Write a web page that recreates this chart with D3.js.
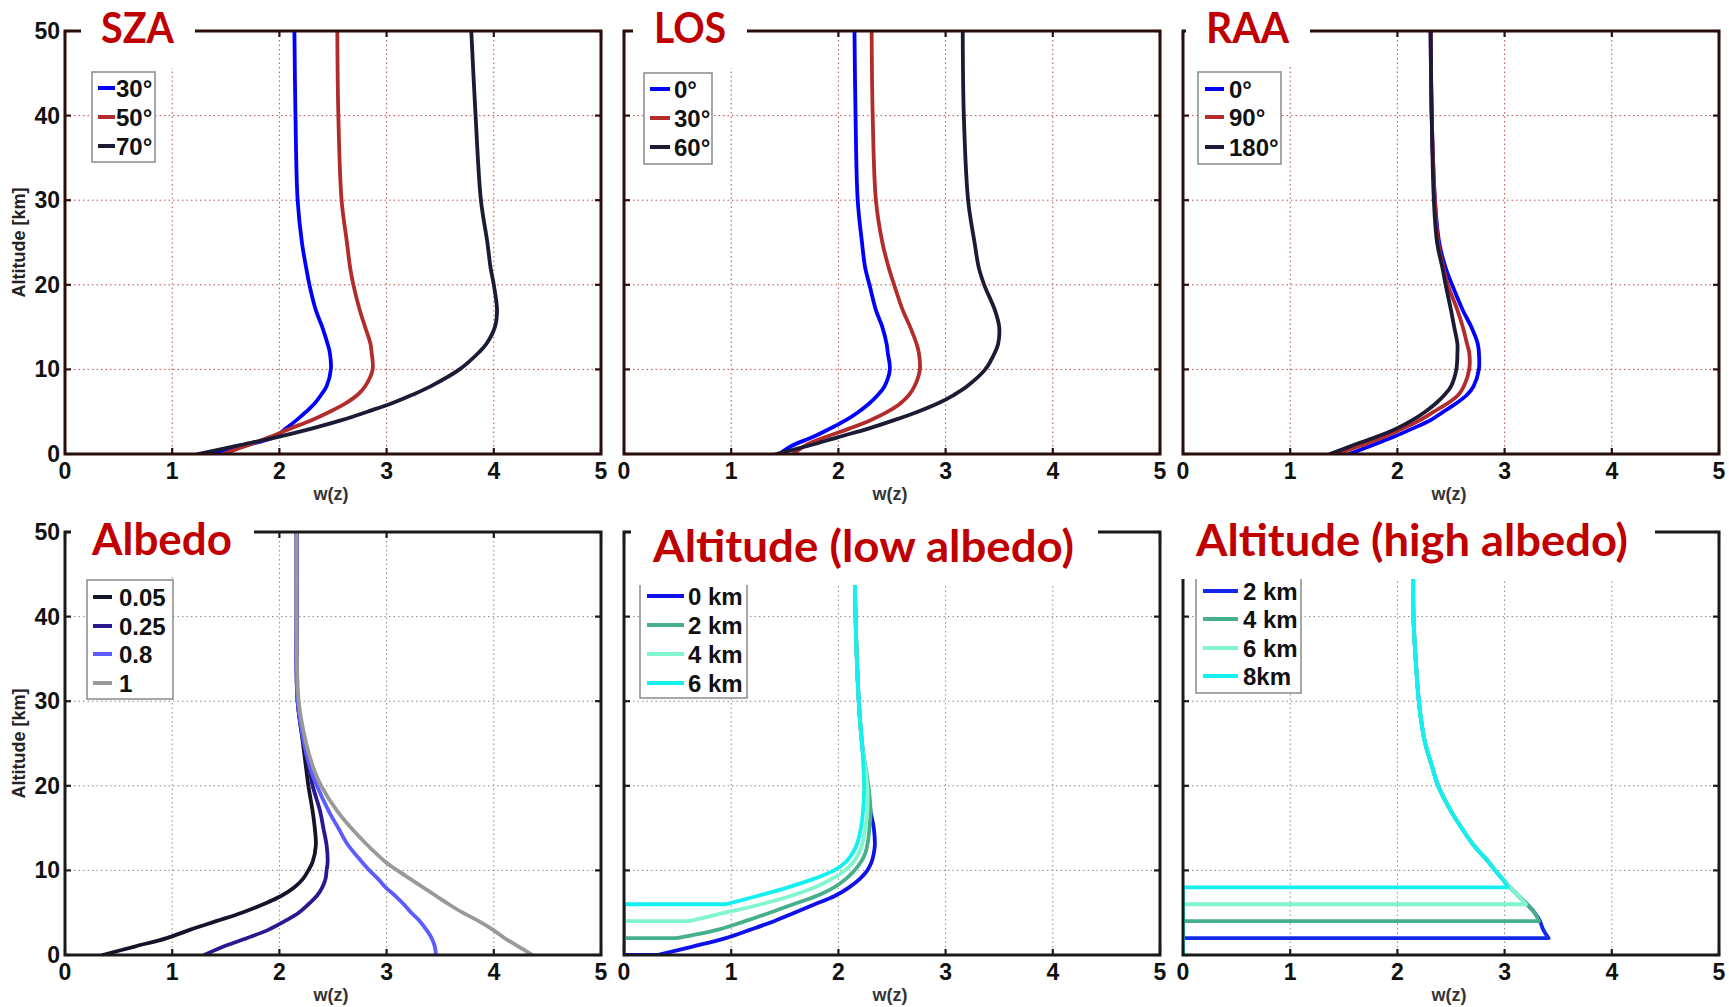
<!DOCTYPE html>
<html><head><meta charset="utf-8">
<script src="https://cdn.jsdelivr.net/npm/d3@7"></script>
<style>body{margin:0;background:#fff;} svg{display:block;}</style>
</head><body>
<svg id="chart" width="1729" height="1007"></svg>
<script>
// ---------- data ----------
const xTickValues = [0, 1, 2, 3, 4, 5];
const yTickValues = [0, 10, 20, 30, 40, 50];

// SZA panel
const szaAlt = [0,1,2,3,4,5,6,7,8,10,12,13,15,17,20,22,25,30,40,50];
const sza30 = [1.30,1.68,1.95,2.06,2.16,2.25,2.33,2.39,2.44,2.48,2.47,2.45,2.40,2.34,2.28,2.25,2.21,2.17,2.15,2.14];
const sza50 = [1.47,1.70,1.91,2.10,2.30,2.47,2.62,2.73,2.80,2.87,2.86,2.85,2.80,2.75,2.69,2.66,2.63,2.58,2.55,2.54];
const sza70 = [1.24,1.61,1.98,2.30,2.58,2.82,3.05,3.24,3.41,3.68,3.86,3.93,4.01,4.03,4.00,3.97,3.94,3.88,3.83,3.79];
const szaNames = ["30°", "50°", "70°"];

// LOS panel
const losAlt = [0,1,2,3,4,5,6,7,8,10,12,13,15,17,20,22,25,30,40,50];
const los0  = [1.45,1.57,1.76,1.92,2.07,2.19,2.29,2.37,2.43,2.48,2.46,2.45,2.41,2.35,2.29,2.25,2.22,2.18,2.16,2.15];
const los30 = [1.58,1.69,1.88,2.10,2.30,2.46,2.58,2.66,2.71,2.76,2.75,2.73,2.67,2.60,2.52,2.47,2.41,2.35,2.32,2.31];
const los60 = [1.42,1.73,2.00,2.28,2.52,2.74,2.93,3.08,3.20,3.37,3.46,3.49,3.50,3.46,3.36,3.31,3.27,3.21,3.17,3.16];
const losNames = ["0°", "30°", "60°"];

// RAA panel
const raaAlt = [0,1,2,3,4,5,6,7,8,10,12,13,15,17,20,22,25,30,40,50];
const raa0   = [1.55,1.76,1.96,2.14,2.31,2.43,2.55,2.65,2.71,2.76,2.76,2.75,2.69,2.61,2.51,2.45,2.39,2.35,2.32,2.31];
const raa90  = [1.44,1.66,1.87,2.05,2.21,2.34,2.47,2.57,2.62,2.67,2.67,2.65,2.61,2.56,2.47,2.43,2.38,2.35,2.32,2.31];
const raa180 = [1.37,1.58,1.80,1.99,2.14,2.26,2.36,2.44,2.50,2.55,2.56,2.56,2.53,2.50,2.45,2.42,2.37,2.34,2.32,2.31];
const raaNames = ["0°", "90°", "180°"];

// Albedo panel
const albAlt = [0,1,2,3,4,5,6,7,8,9,10,11,13,15,17,20,22,25,30,40,50];
const alb005 = [0.35,0.65,0.95,1.17,1.41,1.65,1.85,2.02,2.14,2.22,2.27,2.31,2.34,2.33,2.31,2.27,2.25,2.22,2.17,2.16,2.16];
const alb025 = [1.30,1.48,1.70,1.90,2.05,2.18,2.27,2.35,2.40,2.43,2.44,2.45,2.44,2.41,2.38,2.31,2.28,2.23,2.17,2.16,2.16];
const alb08  = [3.46,3.45,3.42,3.37,3.31,3.23,3.16,3.08,2.99,2.92,2.84,2.77,2.64,2.55,2.46,2.35,2.29,2.23,2.17,2.16,2.16];
const alb1   = [4.36,4.23,4.10,3.99,3.86,3.71,3.58,3.46,3.34,3.22,3.10,2.99,2.82,2.67,2.54,2.39,2.32,2.25,2.18,2.16,2.16];
const albNames = ["0.05", "0.25", "0.8", "1"];

// Altitude (low albedo) panel
const lowAlt = [0,1,2,3,4,5,6,7,8,9,10,11,12,13,15,17,20,25,30,40,50];
const low0 = [0.31,0.64,0.95,1.18,1.40,1.59,1.78,1.97,2.10,2.20,2.27,2.31,2.33,2.34,2.33,2.30,2.27,2.22,2.19,2.16,2.15];
const low2 = [null,null,0.49,0.88,1.13,1.36,1.58,1.80,1.96,2.07,2.15,2.21,2.25,2.27,2.29,2.30,2.28,2.22,2.19,2.16,2.15];
const low4 = [null,null,null,null,0.61,0.94,1.28,1.56,1.78,1.94,2.06,2.14,2.19,2.22,2.25,2.27,2.27,2.22,2.19,2.16,2.15];
const low6 = [null,null,null,null,null,null,0.95,1.25,1.53,1.77,1.96,2.07,2.13,2.17,2.21,2.23,2.24,2.22,2.19,2.16,2.15];
const lowNames = ["0 km", "2 km", "4 km", "6 km"];

// Altitude (high albedo) panel
const highAlt = [2,3,4,5,6,7,8,9,10,11,13,15,17,20,22,25,27,30,35,40,50];
const high2 = [3.41,3.36,3.33,3.28,3.21,3.13,3.05,2.98,2.91,2.85,2.71,2.60,2.50,2.38,2.33,2.26,2.23,2.20,2.17,2.15,2.15];
const high4 = [null,null,3.32,3.28,3.21,3.13,3.05,2.98,2.91,2.85,2.71,2.60,2.50,2.38,2.33,2.26,2.23,2.20,2.17,2.15,2.15];
const high6 = [null,null,null,null,3.20,3.13,3.05,2.98,2.91,2.85,2.71,2.60,2.50,2.38,2.33,2.26,2.23,2.20,2.17,2.15,2.15];
const high8 = [null,null,null,null,null,null,3.03,2.98,2.91,2.85,2.71,2.60,2.50,2.38,2.33,2.26,2.23,2.20,2.17,2.15,2.15];
const highNames = ["2 km", "4 km", "6 km", "8km"];

const titles = ["SZA", "LOS", "RAA", "Albedo", "Altitude (low albedo)", "Altitude (high albedo)"];

// ---------- layout / style ----------
const colX = [65, 624, 1183];
const rowY = [31, 532];
const PW = 536, PH = 423;
const LW = 3.8;

const svg = d3.select("#chart");
const FONT = "'Liberation Sans', Arial, sans-serif";
const TFONT = "Lato, 'Open Sans', sans-serif";

const panels = [
  { title: titles[0], col: 0, row: 0, alt: szaAlt, series: [sza30, sza50, sza70], names: szaNames,
    colors: ["#0000ff", "#b22c2c", "#1b1b35"], floor: false, yLabels: true,
    mask: [81, 0, 195, 68], titleX: 101, titleY: 43, titleW: 73, titleSize: 42,
    legend: { x0: 92, x1: 155, y0: 72, y1: 162, s0: 98, s1: 115, tx: 116, rows: [88, 117, 146] } },
  { title: titles[1], col: 1, row: 0, alt: losAlt, series: [los0, los30, los60], names: losNames,
    colors: ["#0000ff", "#b22c2c", "#1b1b35"], floor: false, yLabels: false,
    mask: [633, 0, 747, 68], titleX: 654, titleY: 43, titleW: 72, titleSize: 42,
    legend: { x0: 644, x1: 712, y0: 73, y1: 164, s0: 650, s1: 670, tx: 674, rows: [89, 118, 147] } },
  { title: titles[2], col: 2, row: 0, alt: raaAlt, series: [raa0, raa90, raa180], names: raaNames,
    colors: ["#0000ff", "#b22c2c", "#1b1b35"], floor: false, yLabels: false,
    mask: [1186, 0, 1310, 67], titleX: 1206, titleY: 43, titleW: 83, titleSize: 42,
    legend: { x0: 1198, x1: 1281, y0: 72, y1: 164, s0: 1205, s1: 1224, tx: 1229, rows: [89, 117, 147] } },
  { title: titles[3], col: 0, row: 1, alt: albAlt, series: [alb005, alb025, alb08, alb1], names: albNames,
    colors: ["#14142a", "#2a1890", "#5c5cff", "#999999"], floor: false, yLabels: true,
    mask: [71, 505, 254, 575], titleX: 92, titleY: 555, titleW: 140, titleSize: 43,
    legend: { x0: 87, x1: 173, y0: 580, y1: 699, s0: 93, s1: 112, tx: 119, rows: [597, 626, 654, 683] } },
  { title: titles[4], col: 1, row: 1, alt: lowAlt, series: [low0, low2, low4, low6], names: lowNames,
    colors: ["#1010e8", "#45b08a", "#80f5cf", "#14f0f0"], floor: true, yLabels: false,
    mask: [631, 505, 1098, 585], titleX: 653, titleY: 562, titleW: 421, titleSize: 44,
    legend: { x0: 640, x1: 747, y0: 570, y1: 698, s0: 647, s1: 684, tx: 688, rows: [596, 625, 654, 683] } },
  { title: titles[5], col: 2, row: 1, alt: highAlt, series: [high2, high4, high6, high8], names: highNames,
    colors: ["#1428e8", "#45b08a", "#80f5cf", "#14f0f0"], floor: true, yLabels: false,
    mask: [1172, 505, 1655, 579], titleX: 1196, titleY: 556, titleW: 432, titleSize: 43,
    legend: { x0: 1196, x1: 1301, y0: 565, y1: 693, s0: 1203, s1: 1238, tx: 1243, rows: [591, 619, 648, 676] } }
];

panels.forEach((p, pi) => {
  const x0 = colX[p.col], y0 = rowY[p.row];
  const x = d3.scaleLinear().domain([0, 5]).range([x0, x0 + PW]);
  const y = d3.scaleLinear().domain([0, 50]).range([y0 + PH, y0]);
  const g = svg.append("g");
  const topRow = p.row === 0;
  const gridColor = topRow ? "#c04a4a" : "#8a8a8a";
  const frameColor = topRow ? "#2a0d0d" : "#1a1a1a";

  const clipId = "clip" + pi;
  svg.append("clipPath").attr("id", clipId).append("rect")
    .attr("x", x0).attr("y", y0).attr("width", PW).attr("height", PH);

  // grid
  const grid = g.append("g");
  grid.selectAll("line.gx").data(xTickValues.slice(1, -1)).join("line")
    .attr("x1", d => x(d)).attr("x2", d => x(d)).attr("y1", y0).attr("y2", y0 + PH)
    .attr("stroke", gridColor).attr("stroke-width", 1).attr("stroke-dasharray", "1.5,3");
  grid.selectAll("line.gy").data(yTickValues.slice(1, -1)).join("line")
    .attr("x1", x0).attr("x2", x0 + PW).attr("y1", d => y(d)).attr("y2", d => y(d))
    .attr("stroke", gridColor).attr("stroke-width", 1).attr("stroke-dasharray", "1.5,3");

  // curves
  const lineGen = d3.line().x(d => x(d[0])).y(d => y(d[1])).curve(d3.curveCatmullRom.alpha(0.5));
  const floorGen = d3.line().x(d => x(d[0])).y(d => y(d[1]));
  const cg = g.append("g").attr("clip-path", `url(#${clipId})`);
  p.series.forEach((vals, si) => {
    const pts = p.alt.map((a, i) => [vals[i], a]).filter(d => d[0] !== null);
    if (p.floor) {
      const h = pts[0][1], w = pts[0][0];
      cg.append("path").attr("d", floorGen([[0, 0], [0, h], [w, h]]))
        .attr("fill", "none").attr("stroke", p.colors[si]).attr("stroke-width", LW)
        .attr("stroke-linejoin", "round");
    }
    cg.append("path").attr("d", lineGen(pts))
      .attr("fill", "none").attr("stroke", p.colors[si]).attr("stroke-width", LW)
      .attr("stroke-linejoin", "round").attr("stroke-linecap", "round");
  });

  // frame
  g.append("rect").attr("x", x0).attr("y", y0).attr("width", PW).attr("height", PH)
    .attr("fill", "none").attr("stroke", frameColor).attr("stroke-width", 3);

  // inner ticks on all sides
  const tk = 6;
  const ticks = g.append("g").attr("stroke", frameColor).attr("stroke-width", 2.2);
  xTickValues.forEach(v => {
    ticks.append("line").attr("x1", x(v)).attr("x2", x(v)).attr("y1", y0 + PH).attr("y2", y0 + PH - tk);
    ticks.append("line").attr("x1", x(v)).attr("x2", x(v)).attr("y1", y0).attr("y2", y0 + tk);
  });
  yTickValues.forEach(v => {
    ticks.append("line").attr("x1", x0).attr("x2", x0 + tk).attr("y1", y(v)).attr("y2", y(v));
    ticks.append("line").attr("x1", x0 + PW).attr("x2", x0 + PW - tk).attr("y1", y(v)).attr("y2", y(v));
  });

  // x tick labels
  g.selectAll("text.xt").data(xTickValues).join("text")
    .attr("x", d => x(d)).attr("y", y0 + PH + 25)
    .attr("text-anchor", "middle").attr("font-family", FONT).attr("font-weight", "bold")
    .attr("font-size", 23).attr("fill", "#111").text(d => d);

  // x axis label
  g.append("text").attr("x", x0 + PW / 2 - 2).attr("y", y0 + PH + 46)
    .attr("text-anchor", "middle").attr("font-family", FONT).attr("font-weight", "bold")
    .attr("font-size", 18).attr("fill", "#333").text("w(z)");

  if (p.yLabels) {
    g.selectAll("text.yt").data(yTickValues).join("text")
      .attr("x", x0 - 5).attr("y", d => y(d) + 8)
      .attr("text-anchor", "end").attr("font-family", FONT).attr("font-weight", "bold")
      .attr("font-size", 23).attr("fill", "#111").text(d => d);
    g.append("text")
      .attr("transform", `translate(${x0 - 40},${y0 + PH / 2}) rotate(-90)`)
      .attr("text-anchor", "middle").attr("font-family", FONT).attr("font-weight", "bold")
      .attr("font-size", 18).attr("fill", "#222").text("Altitude [km]");
  }

  // legend
  const L = p.legend;
  const lg = g.append("g");
  lg.append("rect").attr("x", L.x0).attr("y", L.y0).attr("width", L.x1 - L.x0).attr("height", L.y1 - L.y0)
    .attr("fill", "#fff").attr("stroke", "#8a8a8a").attr("stroke-width", 1.5);
  p.names.forEach((nm, i) => {
    lg.append("line").attr("x1", L.s0).attr("x2", L.s1).attr("y1", L.rows[i]).attr("y2", L.rows[i])
      .attr("stroke", p.colors[i]).attr("stroke-width", 4);
    lg.append("text").attr("x", L.tx).attr("y", L.rows[i] + 9)
      .attr("font-family", FONT).attr("font-weight", "bold").attr("font-size", 24)
      .attr("fill", "#111").text(nm);
  });

  // title mask + title
  const m = p.mask;
  g.append("rect").attr("x", m[0]).attr("y", m[1]).attr("width", m[2] - m[0]).attr("height", m[3] - m[1])
    .attr("fill", "#fff");
  g.append("text").attr("x", p.titleX).attr("y", p.titleY)
    .attr("font-family", TFONT).attr("font-weight", "bold").attr("font-size", p.titleSize)
    .attr("fill", "#c00000").attr("textLength", p.titleW).attr("lengthAdjust", "spacingAndGlyphs")
    .text(p.title);
});
</script>
</body></html>
